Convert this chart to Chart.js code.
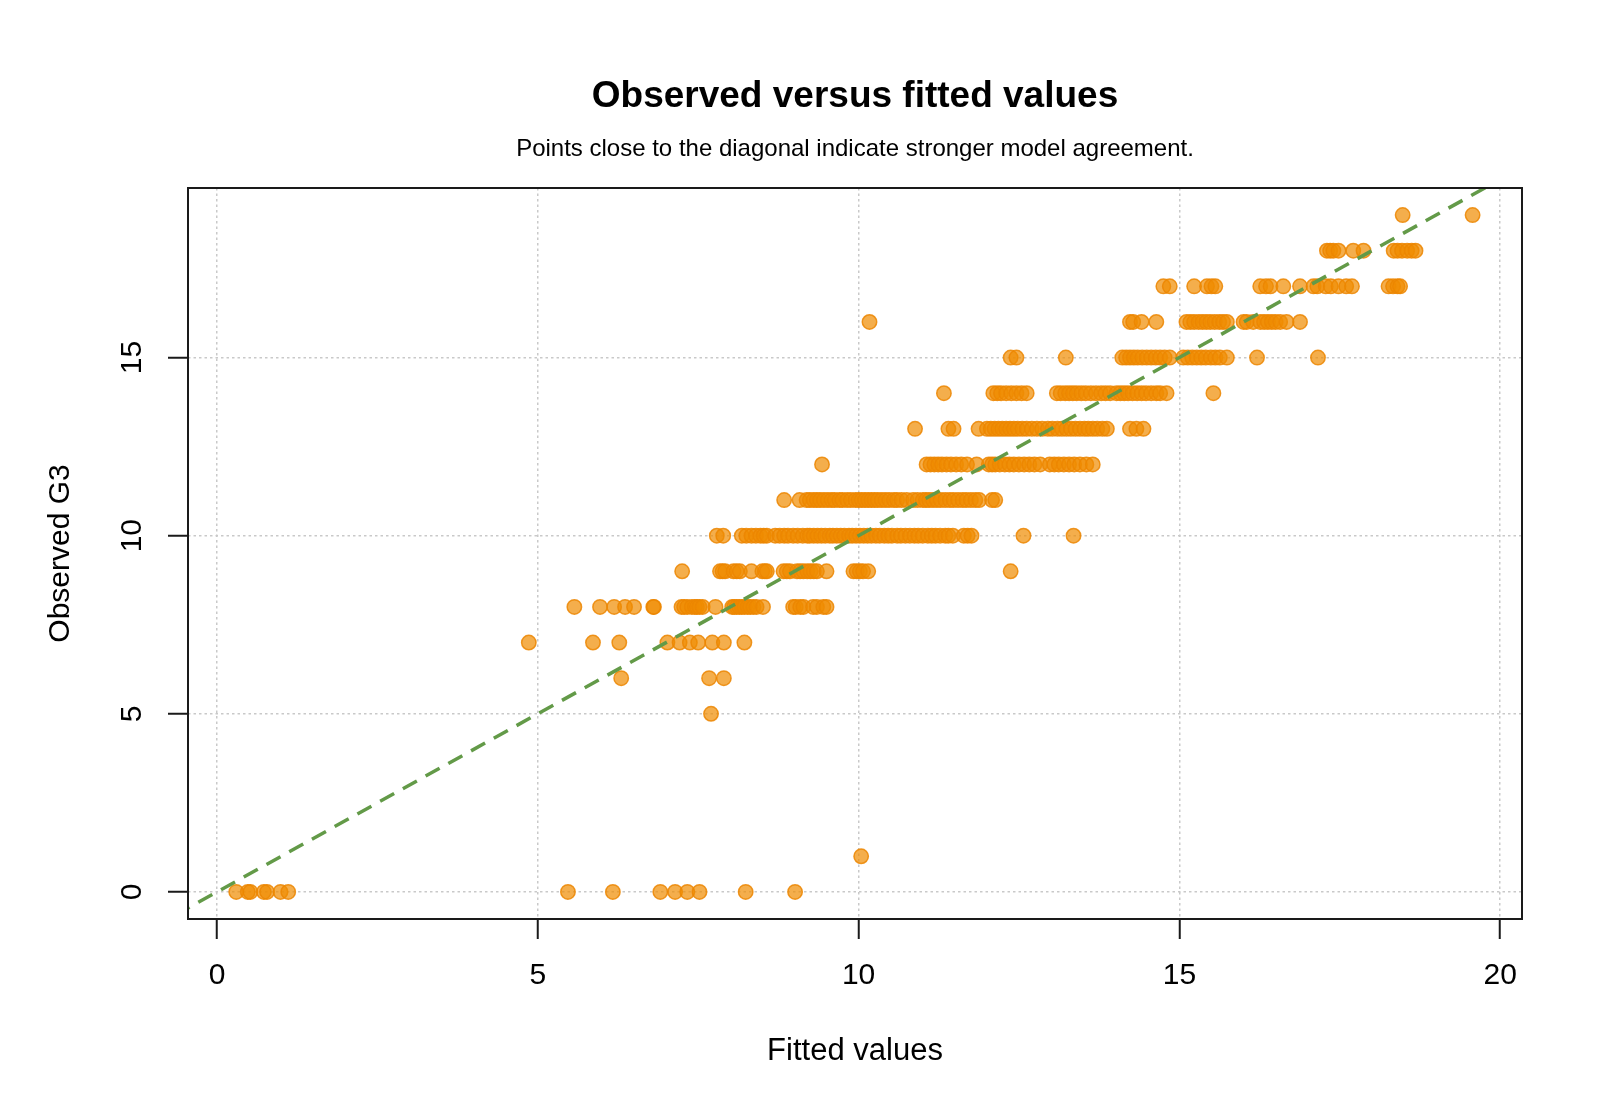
<!DOCTYPE html>
<html>
<head>
<meta charset="utf-8">
<title>Observed versus fitted values</title>
<script src="https://cdn.jsdelivr.net/npm/chart.js@4.4.1/dist/chart.umd.min.js"></script>
<style>
    html, body { margin: 0; padding: 0; background: #ffffff; }
    canvas { display: block; }
</style>
</head>
<body>
<canvas id="chart" width="1600" height="1108"></canvas>
<script>
/* Observed G3 against model fitted values, one row of points per grade. */

const TITLE = 'Observed versus fitted values';
const SUBTITLE = 'Points close to the diagonal indicate stronger model agreement.';
const X_LABEL = 'Fitted values';
const Y_LABEL = 'Observed G3';

const COLOR_POINT = 'rgba(240, 140, 0, 0.7)';
const COLOR_POINT_EDGE = 'rgba(236, 134, 0, 0.85)';
const COLOR_DIAGONAL = '#639a48';
const COLOR_GRID = '#c9c9c9';
const FONT = '"Liberation Sans", Arial, Helvetica, sans-serif';

// observed grades present in the data
const g3Levels = [0, 1, 5, 6, 7, 8, 9, 10, 11, 12, 13, 14, 15, 16, 17, 18, 19];

// fitted values for each observed grade (same order as g3Levels)
const fittedByG3 = [
    [0.30, 0.48, 0.52, 0.73, 0.78, 0.99, 1.11, 5.47, 6.17, 6.91, 7.14, 7.33, 7.52, 8.24, 9.01],
    [10.04],
    [7.70],
    [6.30, 7.67, 7.90],
    [4.86, 5.86, 6.27, 7.02, 7.21, 7.37, 7.50, 7.72, 7.90, 8.22],
    [5.57, 5.97, 6.19, 6.36, 6.50, 6.80, 6.81, 7.24, 7.28, 7.33, 7.40, 7.45, 7.48, 7.52, 7.57,
        7.77, 8.03, 8.06, 8.10, 8.14, 8.18, 8.22, 8.27, 8.31, 8.36, 8.41, 8.51, 8.98, 9.02,
        9.09, 9.14, 9.29, 9.35, 9.45, 9.50],
    [7.25, 7.84, 7.88, 7.92, 8.05, 8.10, 8.15, 8.33, 8.50, 8.54, 8.57, 8.83, 8.88, 8.93, 9.04,
        9.09, 9.14, 9.20, 9.25, 9.30, 9.35, 9.50, 9.92, 9.97, 10.02, 10.07, 10.15, 12.37],
    [7.79, 7.89, 8.18, 8.25, 8.33, 8.40, 8.47, 8.52, 8.57, 8.70, 8.77, 8.84, 8.90, 8.98, 9.05,
        9.13, 9.20, 9.24, 9.30, 9.36, 9.42, 9.48, 9.55, 9.60, 9.66, 9.72, 9.78, 9.85, 9.90,
        9.96, 10.02, 10.08, 10.14, 10.20, 10.27, 10.33, 10.40, 10.46, 10.52, 10.60, 10.66,
        10.73, 10.80, 10.87, 10.93, 11.00, 11.08, 11.14, 11.20, 11.27, 11.35, 11.40, 11.47,
        11.64, 11.70, 11.76, 12.57, 13.35],
    [8.84, 9.08, 9.19, 9.24, 9.30, 9.35, 9.40, 9.46, 9.52, 9.58, 9.63, 9.70, 9.75, 9.82, 9.88,
        9.95, 10.00, 10.05, 10.10, 10.15, 10.20, 10.25, 10.30, 10.36, 10.42, 10.48, 10.55,
        10.60, 10.67, 10.75, 10.85, 10.92, 11.00, 11.05, 11.10, 11.16, 11.22, 11.28, 11.35,
        11.42, 11.48, 11.55, 11.62, 11.68, 11.75, 11.82, 11.88, 12.08, 12.13],
    [9.43, 11.06, 11.12, 11.18, 11.24, 11.30, 11.37, 11.44, 11.52, 11.60, 11.69, 11.84, 12.03,
        12.08, 12.13, 12.20, 12.28, 12.35, 12.42, 12.50, 12.58, 12.66, 12.74, 12.83, 12.98,
        13.05, 13.12, 13.20, 13.28, 13.36, 13.45, 13.55, 13.65],
    [10.88, 11.40, 11.48, 11.87, 12.00, 12.06, 12.12, 12.18, 12.24, 12.30, 12.36, 12.42, 12.48,
        12.55, 12.62, 12.70, 12.78, 12.86, 12.95, 13.02, 13.10, 13.17, 13.24, 13.31, 13.38,
        13.45, 13.52, 13.58, 13.65, 13.72, 13.80, 13.87, 14.23, 14.33, 14.44],
    [11.33, 12.10, 12.16, 12.22, 12.30, 12.38, 12.46, 12.54, 12.62, 13.09, 13.15, 13.22, 13.28,
        13.34, 13.40, 13.47, 13.54, 13.62, 13.70, 13.78, 13.85, 13.92, 14.02, 14.08, 14.14,
        14.20, 14.27, 14.34, 14.41, 14.48, 14.56, 14.64, 14.70, 14.80, 15.53],
    [12.37, 12.46, 13.23, 14.11, 14.17, 14.23, 14.29, 14.35, 14.42, 14.49, 14.56, 14.63, 14.70,
        14.77, 14.85, 15.06, 15.13, 15.20, 15.27, 15.34, 15.41, 15.49, 15.56, 15.63, 15.74,
        16.21, 17.16],
    [10.17, 14.23, 14.28, 14.41, 14.64, 15.11, 15.17, 15.23, 15.30, 15.36, 15.42, 15.48, 15.55,
        15.62, 15.68, 15.74, 16.00, 16.05, 16.15, 16.26, 16.32, 16.38, 16.44, 16.50, 16.57,
        16.67, 16.88],
    [14.75, 14.85, 15.23, 15.43, 15.50, 15.56, 16.26, 16.35, 16.42, 16.62, 16.88, 17.09, 17.15,
        17.28, 17.36, 17.48, 17.60, 17.69, 18.26, 18.33, 18.40, 18.44],
    [17.30, 17.35, 17.40, 17.48, 17.71, 17.87, 18.34, 18.40, 18.47, 18.55, 18.62, 18.68],
    [18.48, 19.57],
];

// y = x reference line, runs past both ends and gets clipped to the plot box
const diagonal = [-1, 21];

const xTicks = [0, 5, 10, 15, 20];
const yTicks = [0, 5, 10, 15];
const xRange = [-0.452, 20.34];
const yRange = [-0.76, 19.76];

const points = [];
g3Levels.forEach((g3, i) => {
    fittedByG3[i].forEach((fitted) => points.push({ x: fitted, y: g3 }));
});

/* --- Титулы, рамка и повёрнутые подписи оси Y (как у base R) --- */

const decorations = {
    id: 'decorations',
    afterDraw(c) {
        const { ctx, chartArea } = c;
        const cx = (chartArea.left + chartArea.right) / 2;
        ctx.save();
        ctx.fillStyle = '#000000';
        ctx.textAlign = 'center';
        ctx.textBaseline = 'middle';
        ctx.font = `bold 37px ${FONT}`;
        ctx.fillText(TITLE, cx, 97);
        ctx.font = `24px ${FONT}`;
        ctx.fillText(SUBTITLE, cx, 149);

        // y tick labels, parallel to the axis
        const yScale = c.scales.y;
        ctx.font = `30px ${FONT}`;
        yScale.ticks.forEach((t) => {
            const py = yScale.getPixelForValue(t.value);
            ctx.save();
            ctx.translate(chartArea.left - 55, py);
            ctx.rotate(-Math.PI / 2);
            ctx.fillText(String(t.value), 0, 0);
            ctx.restore();
        });

        ctx.strokeStyle = '#1a1a1a';
        ctx.lineWidth = 2;
        ctx.strokeRect(chartArea.left, chartArea.top,
            chartArea.right - chartArea.left, chartArea.bottom - chartArea.top);
        ctx.restore();
    },
};

new Chart(document.getElementById('chart'), {
    type: 'scatter',
    data: {
        datasets: [
            {
                data: diagonal.map((v) => ({ x: v, y: v })),
                showLine: true,
                borderColor: COLOR_DIAGONAL,
                borderWidth: 3.5,
                borderDash: [16, 10],
                pointRadius: 0,
                clip: 0,
                order: -1,
            },
            {
                data: points,
                pointRadius: 7.2,
                pointBackgroundColor: COLOR_POINT,
                pointBorderColor: COLOR_POINT_EDGE,
                pointBorderWidth: 1.5,
            },
        ],
    },
    options: {
        responsive: false,
        animation: false,
        devicePixelRatio: 1,
        layout: { padding: { top: 188, right: 78, left: 0, bottom: 0 } },
        plugins: {
            legend: { display: false },
            tooltip: { enabled: false },
        },
        scales: {
            x: {
                type: 'linear',
                min: xRange[0],
                max: xRange[1],
                afterFit: (s) => { s.height = 189; },
                afterBuildTicks: (s) => { s.ticks = xTicks.map((v) => ({ value: v })); },
                ticks: {
                    includeBounds: false,
                    color: '#000000',
                    padding: 19,
                    maxRotation: 0,
                    font: { family: FONT, size: 30 },
                },
                grid: {
                    color: COLOR_GRID,
                    lineWidth: 1.5,
                    tickLength: 20,
                    tickColor: '#1a1a1a',
                    tickWidth: 2,
                    tickBorderDash: [],
                },
                border: { display: false, dash: [2.5, 3] },
                title: {
                    display: true,
                    text: X_LABEL,
                    color: '#000000',
                    font: { family: FONT, size: 31 },
                    padding: { top: 0, bottom: 38 },
                },
            },
            y: {
                type: 'linear',
                min: yRange[0],
                max: yRange[1],
                afterFit: (s) => { s.width = 188; },
                afterBuildTicks: (s) => { s.ticks = yTicks.map((v) => ({ value: v })); },
                ticks: { display: false },
                grid: {
                    color: COLOR_GRID,
                    lineWidth: 1.5,
                    tickLength: 20,
                    tickColor: '#1a1a1a',
                    tickWidth: 2,
                    tickBorderDash: [],
                },
                border: { display: false, dash: [2.5, 3] },
                title: {
                    display: true,
                    text: Y_LABEL,
                    color: '#000000',
                    font: { family: FONT, size: 30 },
                    padding: { top: 43, bottom: 0 },
                },
            },
        },
    },
    plugins: [decorations],
});
</script>
</body>
</html>
